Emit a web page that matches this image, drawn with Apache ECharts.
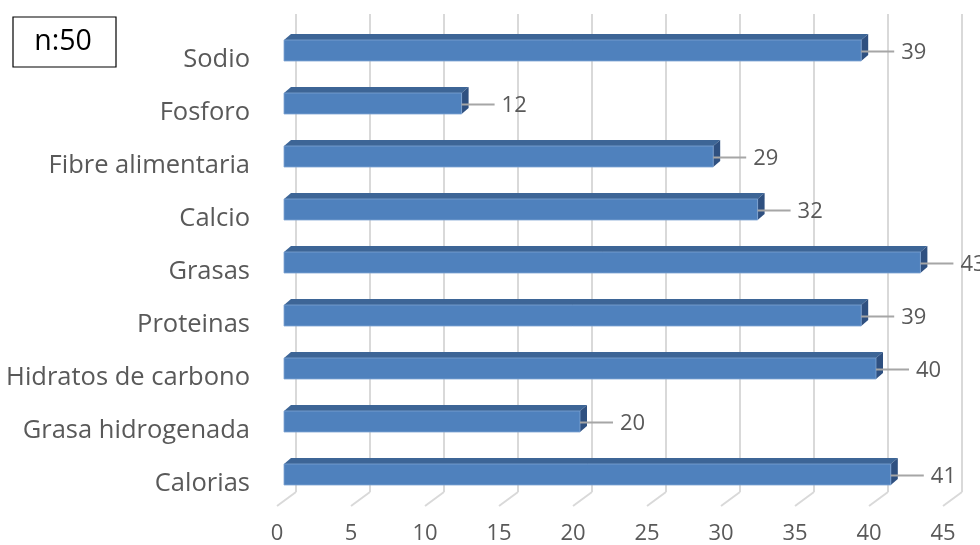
<!DOCTYPE html>
<html>
<head>
<meta charset="utf-8">
<script src="https://cdn.jsdelivr.net/npm/echarts@6/dist/echarts.min.js"></script>
<style>
  html, body { margin: 0; padding: 0; background: #fff; }
  #chart { width: 980px; height: 545px; }
</style>
</head>
<body>
<div id="chart"></div>
<script>
// Nutrient categories, top to bottom
const categories = ['Sodio', 'Fosforo', 'Fibre alimentaria', 'Calcio', 'Grasas',
  'Proteinas', 'Hidratos de carbono', 'Grasa hidrogenada', 'Calorias'];
const values = [39, 12, 29, 32, 43, 39, 40, 20, 41];
const ticks = [0, 5, 10, 15, 20, 25, 30, 35, 40, 45];
const sampleNote = 'n:50';

const FONT = '"Open Sans", sans-serif';
const TEXT = '#595959';
const GRID_LINE = '#d9d9d9';
const FRONT = '#4f81bd';
const TOP = '#3d6596';
const SIDE = '#2f5080';
const DEPTH_X = 7, DEPTH_Y = 6, BAR_H = 21;

const chart = echarts.init(document.getElementById('chart'));

// Grids: back wall (0), bars (1), floor tick labels (2), category labels (3)
const option = {
  animation: false,
  grid: [
    { left: 296, width: 666, top: 14, height: 478 },
    { left: 284, width: 666, top: 24, height: 477 },
    { left: 277, width: 666, top: 14, height: 492 },
    { left: 284, width: 666, top: 33, height: 477 }
  ],
  xAxis: [
    { gridIndex: 0, type: 'value', min: 0, max: 45, interval: 5,
      axisLine: { show: false }, axisTick: { show: false }, axisLabel: { show: false },
      splitLine: { show: true, lineStyle: { color: GRID_LINE, width: 2 } } },
    { gridIndex: 1, type: 'value', min: 0, max: 45, interval: 5,
      axisLine: { show: false }, axisTick: { show: false }, axisLabel: { show: false },
      splitLine: { show: false } },
    { gridIndex: 2, type: 'value', min: 0, max: 45, interval: 5,
      axisLine: { show: false }, axisTick: { show: false }, splitLine: { show: false },
      axisLabel: { show: true, color: TEXT, fontSize: 22, fontFamily: FONT, margin: 22 } },
    { gridIndex: 3, type: 'value', min: 0, max: 45, show: false }
  ],
  yAxis: [
    { gridIndex: 0, type: 'value', min: 0, max: 1, show: false },
    { gridIndex: 1, type: 'category', data: categories, inverse: true, show: false },
    { gridIndex: 2, type: 'value', min: 0, max: 1, show: false },
    { gridIndex: 3, type: 'category', data: categories, inverse: true,
      axisLine: { show: false }, axisTick: { show: false }, splitLine: { show: false },
      axisLabel: { color: TEXT, fontSize: 25.5, fontFamily: FONT, margin: 34 } }
  ],
  graphic: [
    { type: 'rect', shape: { x: 13, y: 17, width: 103, height: 50 },
      style: { fill: '#fff', stroke: '#000', lineWidth: 1.2 } },
    { type: 'text',
      style: { text: sampleNote, fill: '#000', font: '28.5px ' + FONT, x: 63, y: 42,
               align: 'center', verticalAlign: 'middle' } }
  ],
  series: [
    // Floor segments running forward from the back wall gridlines
    {
      type: 'custom', xAxisIndex: 0, yAxisIndex: 0, silent: true,
      data: ticks.map(t => [t]),
      renderItem: function (params, api) {
        const p = api.coord([api.value(0), 0]);
        return {
          type: 'line',
          shape: { x1: p[0], y1: p[1], x2: p[0] - 19, y2: p[1] + 14 },
          style: { stroke: GRID_LINE, lineWidth: 2 }
        };
      }
    },
    // 3D bars with leader lines and value labels
    {
      type: 'custom', xAxisIndex: 1, yAxisIndex: 1, silent: true,
      data: values.map((v, i) => [v, i]),
      renderItem: function (params, api) {
        const v = api.value(0);
        const idx = api.value(1);
        const p0 = api.coord([0, idx]);
        const p1 = api.coord([v, idx]);
        const x0 = p0[0], x1 = p1[0], yc = p0[1];
        const yt = yc - BAR_H / 2, yb = yc + BAR_H / 2;
        return {
          type: 'group',
          children: [
            { type: 'polygon',
              shape: { points: [[x0, yt], [x1, yt], [x1 + DEPTH_X, yt - DEPTH_Y], [x0 + DEPTH_X, yt - DEPTH_Y]] },
              style: { fill: TOP } },
            { type: 'polygon',
              shape: { points: [[x1, yt], [x1 + DEPTH_X, yt - DEPTH_Y], [x1 + DEPTH_X, yb - DEPTH_Y], [x1, yb]] },
              style: { fill: SIDE } },
            { type: 'rect',
              shape: { x: x0, y: yt, width: x1 - x0, height: BAR_H },
              style: { fill: FRONT, stroke: '#7ea3d3', lineWidth: 0.8 } },
            { type: 'line',
              shape: { x1: x1, y1: yc + 1, x2: x1 + 33, y2: yc + 1 },
              style: { stroke: '#a6a6a6', lineWidth: 2 } },
            { type: 'text',
              style: { text: String(v), x: x1 + 40, y: yc + 2, fill: TEXT,
                       font: '22px ' + FONT, align: 'left', verticalAlign: 'middle' } }
          ]
        };
      }
    }
  ]
};

chart.setOption(option);
</script>
</body>
</html>
